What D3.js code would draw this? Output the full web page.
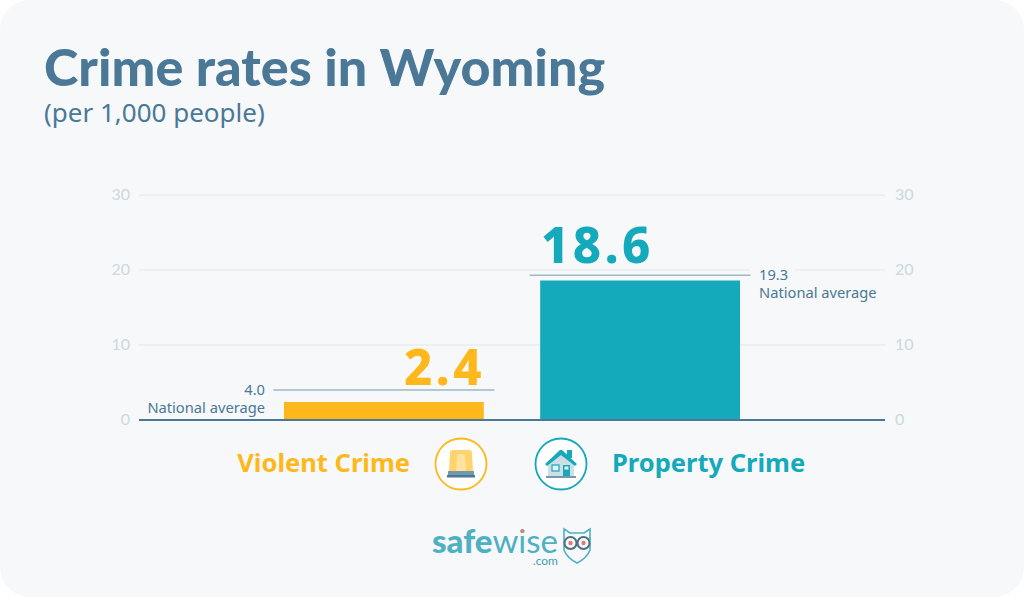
<!DOCTYPE html>
<html><head><meta charset="utf-8">
<script src="https://cdn.jsdelivr.net/npm/d3@7/dist/d3.min.js"></script>
<style>html,body{margin:0;padding:0;background:#fff}svg{display:block;font-family:"Lato","Noto Sans",sans-serif}</style>
</head><body><svg id="c" width="1024" height="597"></svg>
<script>
const categories = ["Violent Crime", "Property Crime"];
const values = [2.4, 18.6];
const nationalAverage = [4.0, 19.3];
const tickValues = [0, 10, 20, 30];
const barColors = ["#ffb81c", "#14a9bb"];

const svg = d3.select("#c");
svg.append("rect").attr("width",1024).attr("height",597).attr("rx",30).attr("fill","#f6f8fa");

const y = d3.scaleLinear().domain([0,30]).range([420,195]);
const x = d3.scaleBand().domain(categories).range([284,740]).paddingInner(0.22);
const slate = "#4a7896";
const nf="'Noto Sans',sans-serif";

svg.append("text").attr("x",44).attr("y",86).attr("font-size",52).attr("font-weight",900)
  .attr("font-family","'Lato',sans-serif").attr("letter-spacing",0.05).attr("fill",slate).text("Crime rates in Wyoming");
svg.append("text").attr("x",44).attr("y",122).attr("font-size",26).attr("font-family",nf)
  .attr("fill",slate).text("(per 1,000 people)");

// grid
const grid = svg.append("g");
grid.selectAll("line").data(tickValues.filter(d=>d>0)).join("line")
  .attr("x1",139).attr("x2",885).attr("y1",d=>y(d)).attr("y2",d=>y(d))
  .attr("stroke","#e8edf0").attr("stroke-width",1.5);
[[130,"end"],[895,"start"]].forEach(([tx,anchor])=>{
  svg.append("g").selectAll("text").data(tickValues).join("text")
    .attr("x",tx).attr("y",d=>y(d)+4.5)
    .attr("text-anchor",anchor).attr("font-size",16).attr("fill","#cbd8df").text(d=>d);
});

// bars
svg.append("g").selectAll("rect").data(values).join("rect")
  .attr("x",(d,i)=>x(categories[i])).attr("width",x.bandwidth())
  .attr("y",d=>y(d)).attr("height",d=>y(0)-y(d)).attr("fill",(d,i)=>barColors[i]);

// baseline
svg.append("line").attr("x1",139).attr("x2",885).attr("y1",y(0)).attr("y2",y(0))
  .attr("stroke",slate).attr("stroke-width",2);

// national averages
svg.append("rect").attr("x",750).attr("y",264).attr("width",45).attr("height",12).attr("fill","#f6f8fa");
svg.append("g").selectAll("line").data(nationalAverage).join("line")
  .attr("x1",(d,i)=>x(categories[i])-10.5).attr("x2",(d,i)=>x(categories[i])+x.bandwidth()+10.5)
  .attr("y1",d=>y(d)).attr("y2",d=>y(d)).attr("stroke","#9db8c6").attr("stroke-width",1.5);

const f1=d3.format(".1f");
const naFont=14.7;
svg.append("text").attr("x",265).attr("y",395).attr("text-anchor","end").attr("font-size",naFont).attr("font-family",nf).attr("fill",slate).text(f1(nationalAverage[0]));
svg.append("text").attr("x",265).attr("y",413).attr("text-anchor","end").attr("font-size",naFont).attr("font-family",nf).attr("fill",slate).text("National average");
svg.append("text").attr("x",759).attr("y",280).attr("font-size",naFont).attr("font-family",nf).attr("fill",slate).text(f1(nationalAverage[1]));
svg.append("text").attr("x",759).attr("y",298).attr("font-size",naFont).attr("font-family",nf).attr("fill",slate).text("National average");

// value labels
svg.append("text").attr("x",404).attr("y",385).attr("font-size",49).attr("font-weight",800).attr("letter-spacing",3.5)
  .attr("font-family",nf).attr("fill",barColors[0]).text(f1(values[0]));
svg.append("text").attr("x",541).attr("y",263).attr("font-size",49).attr("font-weight",800).attr("letter-spacing",3.5)
  .attr("font-family",nf).attr("fill",barColors[1]).text(f1(values[1]));

// category labels
svg.append("text").attr("x",410).attr("y",472).attr("text-anchor","end").attr("font-size",25.5).attr("font-weight",700)
  .attr("font-family",nf).attr("fill",barColors[0]).text(categories[0]);
svg.append("text").attr("x",612).attr("y",472).attr("font-size",25.5).attr("font-weight",700)
  .attr("font-family",nf).attr("fill",barColors[1]).text(categories[1]);

// siren icon
const s=svg.append("g").attr("transform","translate(461,464)");
s.append("circle").attr("r",25.5).attr("fill","#fff").attr("stroke",barColors[0]).attr("stroke-width",1.8);
s.append("path").attr("d","M-12,7 L-11,-11 Q-11,-14 -8,-14 L8,-14 Q11,-14 11,-11 L12,7 Z").attr("fill","#ffd36e");
s.append("path").attr("d","M-5,7 L-4,-7 Q-4,-10 -1,-10 L1,-10 Q4,-10 4,-7 L5,7 Z").attr("fill","#ffe3a0");
s.append("rect").attr("x",-13).attr("y",7).attr("width",26).attr("height",4).attr("fill","#7597ad");
s.append("rect").attr("x",-14).attr("y",11).attr("width",28).attr("height",2.5).attr("fill","#4a7896");

// house icon
const h=svg.append("g").attr("transform","translate(561,464)");
h.append("circle").attr("r",25.5).attr("fill","#fff").attr("stroke",barColors[1]).attr("stroke-width",1.8);
h.append("path").attr("d","M-13,-2 L0,-11 L13,-2 L13,12 L-13,12 Z").attr("fill","#cfdde4");
h.append("rect").attr("x",6).attr("y",-14).attr("width",5).attr("height",8).attr("fill",barColors[1]);
h.append("path").attr("d","M-16,0 L-1,-14 L1,-14 L16,0 L14,2 L0,-9 L-14,2 Z").attr("fill",barColors[1]);
h.append("rect").attr("x",-9).attr("y",1).attr("width",7).attr("height",6).attr("fill","#e6f3f6").attr("stroke",barColors[1]).attr("stroke-width",1.2);
h.append("rect").attr("x",2).attr("y",1).attr("width",7).attr("height",11).attr("fill",barColors[1]);
h.append("rect").attr("x",3.5).attr("y",2.5).attr("width",4).attr("height",3).attr("fill","#e6f3f6");
h.append("rect").attr("x",-15).attr("y",12).attr("width",30).attr("height",2).attr("fill","#7597ad");

// logo
const logo="#4fb0c3";
svg.append("text").attr("x",432).attr("y",553).attr("font-size",33).attr("font-weight",900).attr("font-family","'Lato',sans-serif")
  .attr("fill",logo).text("safe").append("tspan").attr("font-weight",400).text("wise");
svg.append("text").attr("x",558).attr("y",565).attr("text-anchor","end").attr("font-size",12).attr("font-family","'Lato',sans-serif")
  .attr("fill","#3f9db1").text(".com");
svg.append("circle").attr("cx",522.5).attr("cy",531).attr("r",1.8).attr("fill","#e8796b");
const o=svg.append("g").attr("transform","translate(577,544)");
o.append("path").attr("d","M-13,-15 L-7,-11 L7,-11 L13,-15 L13,6 Q10,14 0,19 Q-10,14 -13,6 Z").attr("fill","#f6f8fa").attr("stroke",logo).attr("stroke-width",1.6);
[-6.5,6.5].forEach(cx=>{
  o.append("circle").attr("cx",cx).attr("cy",-1).attr("r",6).attr("fill","#f6f8fa").attr("stroke","#4a7186").attr("stroke-width",2);
  o.append("circle").attr("cx",cx).attr("cy",-1).attr("r",2.2).attr("fill","#e8796b");
});
</script></body></html>
